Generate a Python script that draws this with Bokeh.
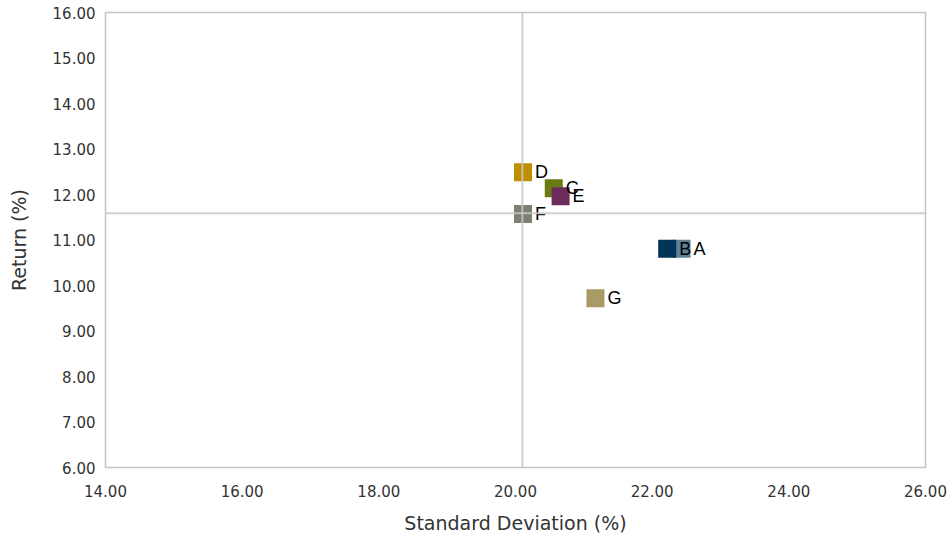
from bokeh.plotting import figure
from bokeh.models import ColumnDataSource, Span, FixedTicker, CustomJSTickFormatter
from bokeh.core.properties import value
from bokeh.embed import file_html
from bokeh.resources import INLINE

names = ["A", "B", "C", "E", "D", "F", "G"]
std_dev = [22.43, 22.22, 20.56, 20.66, 20.11, 20.11, 21.17]
returns = [10.81, 10.81, 12.14, 11.96, 12.49, 11.57, 9.72]
colors = ["#5E8198", "#003459", "#6B7B14", "#6C2D5D", "#BF8F00", "#7F7F74", "#A89B66"]

avg_std = 20.10
avg_ret = 11.59

x_ticks = [14, 16, 18, 20, 22, 24, 26]
y_ticks = [6, 7, 8, 9, 10, 11, 12, 13, 14, 15, 16]

src = ColumnDataSource(dict(x=std_dev, y=returns, name=names, color=colors))

p = figure(width=951, height=539, x_range=(14, 26), y_range=(6, 16),
           output_backend="svg", toolbar_location=None,
           min_border_left=105, min_border_right=26, min_border_top=12, min_border_bottom=72)

p.xgrid.visible = False
p.ygrid.visible = False
p.outline_line_color = "#C4C4C4"
p.outline_line_width = 1.5
p.background_fill_color = "white"
p.border_fill_color = "white"

p.square(x="x", y="y", size=18, color="color", line_color=None, source=src)

for sp in [Span(location=avg_std, dimension="height"), Span(location=avg_ret, dimension="width")]:
    sp.line_color = "#C8C8C8"
    sp.line_width = 2
    sp.line_alpha = 0.85
    p.add_layout(sp)

p.text(x="x", y="y", text="name", source=src, x_offset=12, y_offset=0,
       text_baseline="middle", text_align="left", text_font=value("Liberation Sans"),
       text_font_size="18px", text_color="#000000")

fmt = CustomJSTickFormatter(code="return tick.toFixed(2);")
for ax in (p.xaxis[0], p.yaxis[0]):
    ax.formatter = fmt
    ax.axis_line_color = None
    ax.major_tick_line_color = None
    ax.minor_tick_line_color = None
    ax.major_tick_out = 0
    ax.major_tick_in = 0
    ax.major_label_text_font = "DejaVu Sans"
    ax.major_label_text_font_size = "15px"
    ax.major_label_text_color = "#333333"
    ax.axis_label_text_font = "DejaVu Sans"
    ax.axis_label_text_font_size = "19px"
    ax.axis_label_text_font_style = "normal"
    ax.axis_label_text_color = "#333333"

p.xaxis[0].ticker = FixedTicker(ticks=x_ticks)
p.yaxis[0].ticker = FixedTicker(ticks=y_ticks)
p.xaxis[0].axis_label = "Standard Deviation (%)"
p.yaxis[0].axis_label = "Return (%)"
p.xaxis[0].major_label_standoff = 17
p.xaxis[0].axis_label_standoff = 12
p.yaxis[0].major_label_standoff = 10
p.yaxis[0].axis_label_standoff = 20

open("out.html", "w").write(file_html(p, INLINE))
